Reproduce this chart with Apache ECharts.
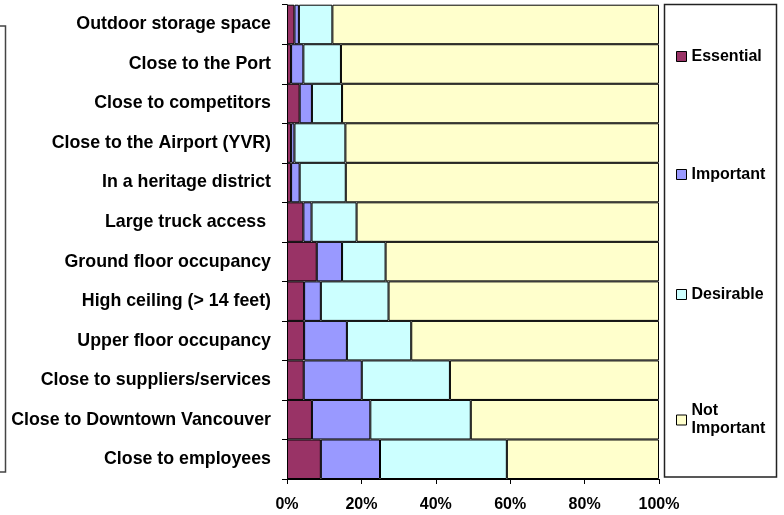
<!DOCTYPE html>
<html>
<head>
<meta charset="utf-8">
<script src="https://cdn.jsdelivr.net/npm/echarts@6/dist/echarts.min.js"></script>
<style>
  html, body { margin: 0; padding: 0; background: #fff; }
  #chart { width: 784px; height: 515px; }
</style>
</head>
<body>
<div id="chart"></div>
<script>
// ========== 数据 ==========
const categories = [
  'Outdoor storage space', 'Close to the Port', 'Close to competitors',
  'Close to the Airport (YVR)', 'In a heritage district', 'Large truck access ',
  'Ground floor occupancy', 'High ceiling (> 14 feet)', 'Upper floor occupancy',
  'Close to suppliers/services', 'Close to Downtown Vancouver', 'Close to employees'
];
const essential    = [2.0, 1.1, 3.4, 1.1, 1.1, 4.4, 8.0, 4.6, 4.6, 4.5, 6.7, 9.1];
const important    = [1.2, 3.3, 3.3, 0.9, 2.3, 2.2, 6.8, 4.5, 11.5, 15.6, 15.7, 15.9];
const desirable    = [9.0, 10.1, 8.1, 13.7, 12.4, 12.1, 11.7, 18.2, 17.3, 23.7, 27.0, 34.1];
const notImportant = [87.8, 85.5, 85.2, 84.3, 84.2, 81.3, 73.5, 72.7, 66.6, 56.2, 50.6, 40.9];
const xTicks = [0, 20, 40, 60, 80, 100];

const FONT = 'Liberation Sans, Arial, sans-serif';
const colors = { 'Essential': '#993366', 'Important': '#9999FF', 'Desirable': '#CCFFFF', 'Not Important': '#FFFFCC' };

function bar(name, data) {
  return {
    name, type: 'bar', stack: 'all', data,
    barWidth: '100%',
    itemStyle: { color: colors[name], borderColor: '#000', borderWidth: 1 },
    emphasis: { disabled: true }
  };
}

function legendAt(name, top, extraText) {
  return {
    data: [name], left: 676, top, orient: 'vertical', padding: 0,
    icon: 'rect', itemWidth: 10, itemHeight: 10, itemGap: 0,
    itemStyle: { borderColor: '#000', borderWidth: 1 },
    selectedMode: false,
    formatter: n => n === 'Not Important' ? 'Not\nImportant' : n,
    textStyle: Object.assign({ fontFamily: FONT, fontWeight: 'bold', fontSize: 16, color: '#000', lineHeight: 17 }, extraText || {})
  };
}

const chart = echarts.init(document.getElementById('chart'), null, { renderer: 'canvas' });
chart.setOption({
  animation: false,
  backgroundColor: '#fff',
  grid: { left: 287, right: 125, top: 4.7, bottom: 36, containLabel: false },
  xAxis: {
    type: 'value', min: xTicks[0], max: xTicks[xTicks.length - 1], interval: 20,
    axisLine: { show: true, lineStyle: { color: '#000', width: 1 } },
    axisTick: { show: true, length: 5, lineStyle: { color: '#000' } },
    splitLine: { show: false },
    axisLabel: { formatter: '{value}%', margin: 18, fontFamily: FONT, fontWeight: 'bold', fontSize: 16, color: '#000' }
  },
  yAxis: {
    type: 'category', inverse: true, data: categories,
    axisLine: { show: true, lineStyle: { color: '#000', width: 1 } },
    axisTick: { show: true, length: 5, lineStyle: { color: '#000' } },
    axisLabel: { margin: 16, fontFamily: FONT, fontWeight: 'bold', fontSize: 17.8, color: '#000' }
  },
  legend: [
    legendAt('Essential', 48),
    legendAt('Important', 166),
    legendAt('Desirable', 286),
    legendAt('Not Important', 393, { lineHeight: 18, padding: [18, 0, 0, 0] })
  ],
  graphic: [
    { type: 'rect', shape: { x: 664.5, y: 4.5, width: 112, height: 472.5 }, style: { fill: 'none', stroke: '#222', lineWidth: 1.5 }, silent: true },
    { type: 'rect', shape: { x: -10, y: 26, width: 15.5, height: 446 }, style: { fill: 'none', stroke: '#444', lineWidth: 1.5 }, silent: true }
  ],
  series: [
    bar('Essential', essential),
    bar('Important', important),
    bar('Desirable', desirable),
    bar('Not Important', notImportant)
  ]
});
</script>
</body>
</html>
